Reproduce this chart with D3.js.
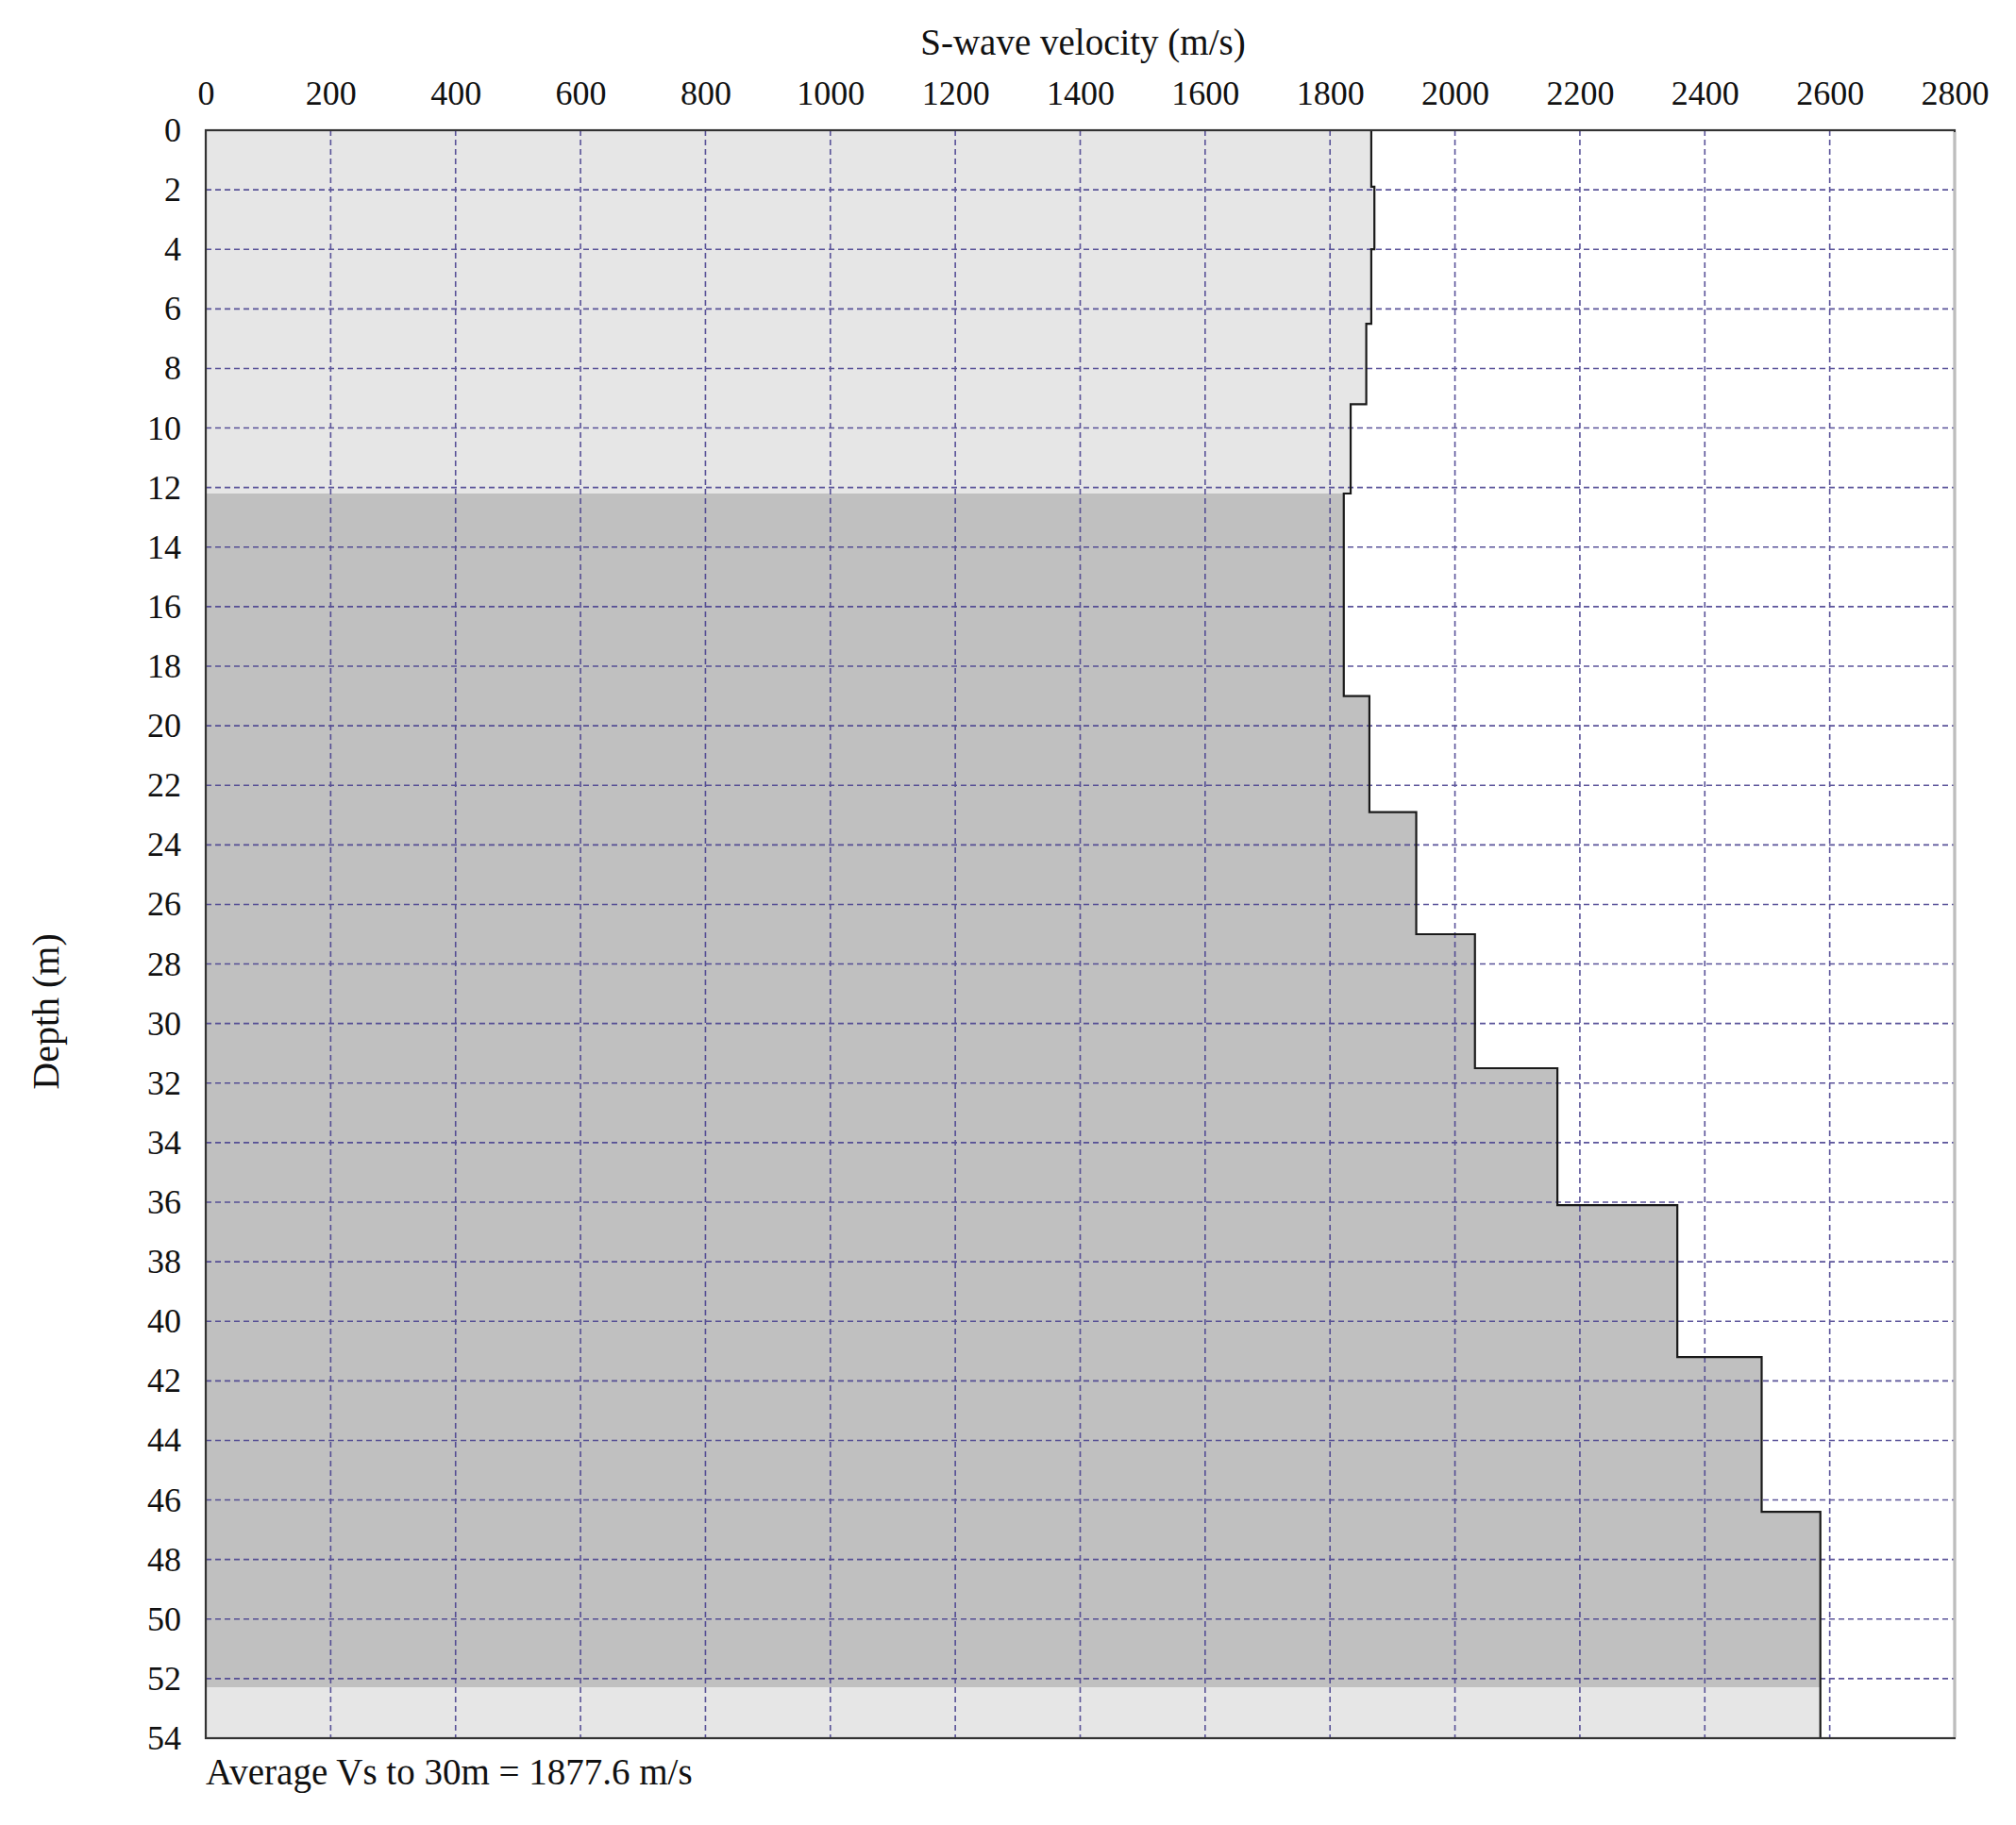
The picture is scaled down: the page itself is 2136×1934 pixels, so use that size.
<!DOCTYPE html>
<html>
<head>
<meta charset="utf-8">
<script src="https://cdn.jsdelivr.net/npm/d3@7"></script>
<style>
  html, body { margin: 0; padding: 0; background: #fff; }
  svg { display: block; }
  text { font-family: "Liberation Serif", "DejaVu Serif", serif; fill: #111; }
</style>
</head>
<body>
<svg id="chart" width="2136" height="1934"></svg>
<script>
// ---- data ----
const layerTops = [0, 1.9, 4.0, 6.5, 9.2, 12.2, 19.0, 22.9, 27.0, 31.5, 36.1, 41.2, 46.4, 52.3];
const layerVs   = [1866, 1871, 1866, 1858, 1833, 1822, 1863, 1938, 2032, 2164, 2356, 2491, 2585, 2585];
const layerKind = ["light","light","light","light","light","dark","dark","dark","dark","dark","dark","dark","dark","light"];
const maxDepth = 54;
const xTicks = [0,200,400,600,800,1000,1200,1400,1600,1800,2000,2200,2400,2600,2800];
const yTicks = [0,2,4,6,8,10,12,14,16,18,20,22,24,26,28,30,32,34,36,38,40,42,44,46,48,50,52,54];
const xTitle = "S-wave velocity (m/s)";
const yTitle = "Depth (m)";
const note = "Average Vs to 30m = 1877.6 m/s";

(function () {
// ---- layout ----
const pL = 218, pR = 2071, pT = 138, pB = 1842;
const svg = d3.select("#chart");
const x = d3.scaleLinear().domain([0, 2800]).range([pL, pR]);
const y = d3.scaleLinear().domain([0, maxDepth]).range([pT, pB]);
const fillColor = { light: "#e6e6e6", dark: "#c0c0c0" };

const layers = layerTops.map((t, i) => ({
  t: t,
  b: i < layerTops.length - 1 ? layerTops[i + 1] : maxDepth,
  v: layerVs[i],
  kind: layerKind[i]
}));

// fills
svg.append("g").attr("shape-rendering", "crispEdges")
  .selectAll("rect").data(layers).join("rect")
  .attr("x", x(0))
  .attr("y", d => Math.round(y(d.t)))
  .attr("width", d => x(d.v) - x(0))
  .attr("height", d => Math.round(y(d.b)) - Math.round(y(d.t)))
  .attr("fill", d => fillColor[d.kind]);

// grid
const grid = svg.append("g").attr("stroke", "#4a4290").attr("stroke-width", 1.6)
  .attr("stroke-dasharray", "6,4").attr("opacity", 0.9);
grid.selectAll("line.v").data(xTicks.filter(t => t > 0 && t < 2800)).join("line")
  .attr("class", "v")
  .attr("x1", d => x(d)).attr("x2", d => x(d))
  .attr("y1", pT).attr("y2", pB);
grid.selectAll("line.h").data(yTicks.filter(t => t > 0 && t < maxDepth)).join("line")
  .attr("class", "h")
  .attr("y1", d => y(d)).attr("y2", d => y(d))
  .attr("x1", pL).attr("x2", pR);

// profile line
const pts = [];
layers.forEach(l => { pts.push([l.v, l.t]); pts.push([l.v, l.b]); });
svg.append("path")
  .attr("d", d3.line().x(d => x(d[0])).y(d => y(d[1]))(pts))
  .attr("fill", "none").attr("stroke", "#1a1a1a").attr("stroke-width", 2.2);

// frame
svg.append("rect").attr("x", pL).attr("y", pT)
  .attr("width", pR - pL).attr("height", pB - pT)
  .attr("fill", "none").attr("stroke", "#333").attr("stroke-width", 2.2);
svg.append("line").attr("x1", pR).attr("x2", pR).attr("y1", pT + 2).attr("y2", pB - 1)
  .attr("stroke", "#bdbdbd").attr("stroke-width", 3);

// axes (labels only)
const xAxis = svg.append("g").attr("transform", `translate(0,${pT - 27})`)
  .call(d3.axisTop(x).tickValues(xTicks).tickSize(0).tickPadding(0).tickFormat(d3.format("d")));
xAxis.select(".domain").remove();
xAxis.selectAll("text").attr("font-size", 36).attr("font-family", "Liberation Serif").attr("fill", "#111");

const yAxis = svg.append("g").attr("transform", `translate(${pL - 26},0)`)
  .call(d3.axisLeft(y).tickValues(yTicks).tickSize(0).tickPadding(0).tickFormat(d3.format("d")));
yAxis.select(".domain").remove();
yAxis.selectAll("text").attr("font-size", 36).attr("font-family", "Liberation Serif").attr("fill", "#111");

// titles
svg.append("text").attr("x", (pL + pR) / 2 + 3).attr("y", 58)
  .attr("text-anchor", "middle").attr("font-size", 39).text(xTitle);
svg.append("text").attr("transform", `translate(62,1072) rotate(-90)`)
  .attr("text-anchor", "middle").attr("font-size", 40).text(yTitle);
svg.append("text").attr("x", pL).attr("y", 1891)
  .attr("text-anchor", "start").attr("font-size", 39).text(note);
})();
</script>
</body>
</html>
